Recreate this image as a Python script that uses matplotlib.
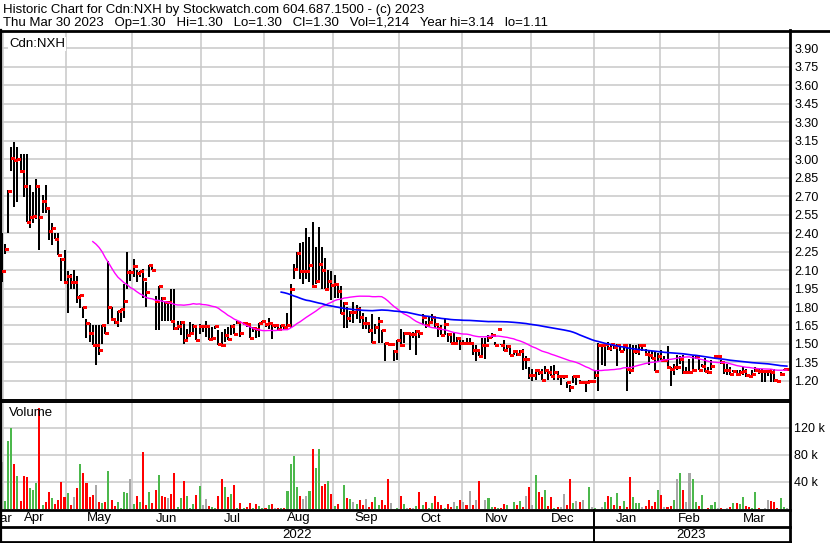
import numpy as np
import pandas as pd
import matplotlib
matplotlib.use('Agg')
import matplotlib.pyplot as plt
from matplotlib.lines import Line2D

plt.rcParams['font.family'] = ['Liberation Sans', 'DejaVu Sans']

W, H = 830, 543

# trading days Mar 31 2022 - Mar 30 2023, exchange holidays removed
holidays = ['2022-04-15', '2022-05-23', '2022-07-01', '2022-08-01', '2022-09-05',
            '2022-10-10', '2022-12-26', '2022-12-27', '2023-01-02', '2023-02-20']
dates = pd.bdate_range('2022-03-31', '2023-03-30')
dates = dates[~dates.isin(pd.to_datetime(holidays))]

close = [
    2.09, 2.27, 2.74, 3.01, 2.99, 3.00, 2.90, 2.78, 2.49, 2.53,
    2.54, 2.78, 2.53, 2.66, 2.60, 2.42, 2.44, 2.35, 2.22, 2.19,
    2.00, 2.05, 2.00, 2.00, 1.88, 1.90, 1.80, 1.67, 1.59, 1.49,
    1.49, 1.45, 1.65, 1.59, 1.80, 1.70, 1.68, 1.77, 1.78, 1.85,
    2.08, 2.08, 2.13,
    2.075, 2.09, 2.03, 1.92, 2.14, 2.10, 1.85, 1.97, 1.87, 1.84,
    1.84, 1.69, 1.63, 1.645, 1.68, 1.53, 1.57, 1.59, 1.645, 1.53,
    1.645, 1.645, 1.645, 1.54, 1.545, 1.645, 1.50, 1.49, 1.575, 1.54,
    1.645, 1.585, 1.68, 1.59, 1.67, 1.665, 1.545, 1.63, 1.62, 1.67,
    1.69,
    1.665, 1.67, 1.65, 1.65, 1.62, 1.65, 1.64, 1.65, 1.95, 2.11,
    2.235, 2.09, 2.09, 2.09, 2.14, 1.97, 2.01, 2.15, 2.10, 1.95,
    2.01, 1.98,
    1.99, 1.93, 1.75, 1.83, 1.71, 1.76, 1.76, 1.78, 1.72, 1.67,
    1.67, 1.61, 1.52, 1.64, 1.685, 1.61, 1.51, 1.50, 1.50, 1.44,
    1.53, 1.49, 1.59,
    1.59, 1.58, 1.58, 1.605, 1.59, 1.72, 1.65, 1.68, 1.72, 1.66,
    1.63, 1.57, 1.66, 1.58, 1.51, 1.51, 1.55, 1.51, 1.51, 1.505,
    1.505, 1.45, 1.45, 1.40, 1.49, 1.49, 1.56, 1.57, 1.49, 1.62,
    1.49, 1.45, 1.48, 1.41, 1.44, 1.42, 1.44, 1.38, 1.38, 1.25,
    1.25, 1.29, 1.27, 1.21, 1.29, 1.27, 1.24, 1.27, 1.24, 1.24,
    1.24, 1.19, 1.15, 1.24, 1.24, 1.19, 1.19, 1.19, 1.20, 1.20, 1.25,
    1.49, 1.49, 1.50, 1.47, 1.50, 1.475, 1.49, 1.445, 1.49, 1.30,
    1.29, 1.44, 1.445, 1.49, 1.49, 1.42, 1.41, 1.39, 1.28, 1.40,
    1.37, 1.37, 1.31, 1.30, 1.31, 1.31, 1.38, 1.27, 1.27, 1.27,
    1.29, 1.40, 1.29, 1.32, 1.28, 1.27, 1.32, 1.40, 1.40,
    1.35, 1.29, 1.29, 1.26, 1.28, 1.26, 1.27, 1.28, 1.25, 1.24,
    1.26, 1.29, 1.28, 1.28, 1.28, 1.28, 1.27, 1.21, 1.20, 1.26,
    1.30, 1.30,
]

high = [
    2.40, 2.31, 2.75, 3.10, 3.14, 3.10, 3.04, 3.04, 3.04, 2.79,
    2.73, 2.84, 2.79, 2.71, 2.79, 2.60, 2.48, 2.40, 2.40, 2.20,
    2.26, 2.09, 2.07, 2.10, 2.05, 1.90, 1.80, 1.70, 1.67, 1.65,
    1.65, 1.65, 1.65, 1.65, 2.17, 1.80, 1.70, 1.77, 1.78, 1.99,
    2.25, 2.10, 2.19,
    2.10, 2.09, 2.11, 2.00, 2.14, 2.14, 1.89, 1.97, 1.88, 1.85,
    1.85, 1.95, 1.95, 1.69, 1.69, 1.665, 1.62, 1.68, 1.665, 1.645,
    1.665, 1.645, 1.69, 1.65, 1.64, 1.645, 1.61, 1.60, 1.62, 1.64,
    1.65, 1.665, 1.69, 1.67, 1.68, 1.67, 1.65, 1.64, 1.62, 1.67,
    1.69,
    1.67, 1.71, 1.66, 1.66, 1.66, 1.65, 1.65, 1.75, 1.99, 2.15,
    2.25, 2.32, 2.33, 2.44, 2.37, 2.49, 2.29, 2.45, 2.29, 2.20,
    2.10, 2.09,
    2.06, 1.97, 1.97, 1.84, 1.80, 1.77, 1.84, 1.82, 1.80, 1.75,
    1.72, 1.68, 1.74, 1.66, 1.72, 1.61, 1.51, 1.51, 1.50, 1.45,
    1.53, 1.62, 1.60,
    1.60, 1.59, 1.60, 1.61, 1.61, 1.74, 1.69, 1.73, 1.74, 1.72,
    1.67, 1.65, 1.71, 1.59, 1.59, 1.59, 1.56, 1.55, 1.53, 1.55,
    1.55, 1.505, 1.49, 1.45, 1.55, 1.55, 1.57, 1.59, 1.52, 1.62,
    1.50, 1.53, 1.49, 1.48, 1.45, 1.45, 1.45, 1.46, 1.40, 1.31,
    1.30, 1.30, 1.28, 1.30, 1.32, 1.30, 1.32, 1.33, 1.28, 1.24,
    1.24, 1.19, 1.17, 1.24, 1.24, 1.21, 1.19, 1.19, 1.21, 1.20, 1.29,
    1.51, 1.50, 1.50, 1.52, 1.50, 1.50, 1.50, 1.49, 1.49, 1.50,
    1.50, 1.49, 1.49, 1.50, 1.50, 1.46, 1.45, 1.44, 1.44, 1.43,
    1.45, 1.40, 1.48, 1.31, 1.34, 1.41, 1.40, 1.41, 1.31, 1.38,
    1.40, 1.41, 1.38, 1.34, 1.39, 1.31, 1.37, 1.40, 1.41,
    1.37, 1.35, 1.34, 1.31, 1.29, 1.29, 1.29, 1.31, 1.30, 1.25,
    1.29, 1.31, 1.30, 1.30, 1.29, 1.29, 1.30, 1.30, 1.22, 1.27,
    1.30, 1.30,
]

low = [
    2.00, 2.23, 2.40, 2.90, 2.61, 2.65, 2.90, 2.69, 2.49, 2.44,
    2.48, 2.51, 2.26, 2.56, 2.56, 2.34, 2.30, 2.35, 2.22, 2.01,
    2.00, 1.75, 1.95, 1.95, 1.83, 1.79, 1.71, 1.55, 1.52, 1.49,
    1.33, 1.41, 1.50, 1.58, 1.66, 1.70, 1.66, 1.64, 1.68, 1.71,
    1.95, 2.01, 2.04,
    2.00, 2.04, 1.87, 1.80, 2.04, 2.10, 1.61, 1.61, 1.69, 1.69,
    1.69, 1.69, 1.61, 1.61, 1.57, 1.50, 1.54, 1.57, 1.58, 1.53,
    1.58, 1.60, 1.56, 1.53, 1.545, 1.62, 1.49, 1.49, 1.515, 1.53,
    1.57, 1.58, 1.665, 1.56, 1.65, 1.64, 1.545, 1.60, 1.55, 1.56,
    1.66,
    1.64, 1.62, 1.54, 1.63, 1.61, 1.63, 1.62, 1.61, 1.63, 2.03,
    2.09, 2.03, 1.99, 2.03, 2.00, 1.965, 1.99, 2.02, 1.95, 1.95,
    1.94, 1.86,
    1.87, 1.87, 1.74, 1.63, 1.63, 1.68, 1.67, 1.70, 1.67, 1.62,
    1.62, 1.59, 1.51, 1.58, 1.51, 1.51, 1.36, 1.50, 1.49, 1.36,
    1.37, 1.49, 1.51,
    1.57, 1.45, 1.55, 1.41, 1.55, 1.65, 1.63, 1.65, 1.67, 1.63,
    1.56, 1.57, 1.57, 1.52, 1.51, 1.51, 1.51, 1.45, 1.50, 1.50,
    1.49, 1.41, 1.36, 1.40, 1.41, 1.38, 1.52, 1.55, 1.49, 1.62,
    1.49, 1.44, 1.44, 1.41, 1.41, 1.40, 1.41, 1.29, 1.30, 1.22,
    1.20, 1.21, 1.25, 1.21, 1.26, 1.21, 1.24, 1.21, 1.21, 1.17,
    1.22, 1.14, 1.11, 1.18, 1.17, 1.19, 1.19, 1.11, 1.19, 1.19, 1.22,
    1.12, 1.33, 1.32, 1.45, 1.44, 1.46, 1.32, 1.44, 1.44, 1.12,
    1.26, 1.30, 1.42, 1.41, 1.44, 1.40, 1.33, 1.38, 1.28, 1.35,
    1.37, 1.36, 1.31, 1.16, 1.25, 1.29, 1.34, 1.26, 1.26, 1.26,
    1.28, 1.38, 1.29, 1.31, 1.27, 1.26, 1.29, 1.38, 1.38,
    1.34, 1.26, 1.25, 1.25, 1.27, 1.25, 1.26, 1.25, 1.23, 1.24,
    1.25, 1.27, 1.26, 1.19, 1.19, 1.24, 1.19, 1.19, 1.20, 1.25,
    1.29, 1.30,
]

# daily volume, thousands of shares
volume = [
    70, 12, 101, 120, 67, 49, 12, 49, 47, 31,
    28, 38, 150, 6, 10, 25, 17, 8, 13, 40,
    18, 23, 6, 18, 31, 67, 53, 39, 18, 20,
    35, 10, 9, 10, 56, 14, 4, 10, 1, 25,
    24, 44, 7, 19, 10, 84, 6, 25, 9, 28,
    50, 19, 18, 16, 22, 54, 3, 16, 42, 19,
    1, 7, 20, 34, 6, 15, 5, 3, 1, 19,
    44, 33, 18, 22, 36, 1, 9, 1, 3, 9,
    1, 7, 5, 1, 1, 6, 7, 1, 2, 1,
    1, 27, 66, 78, 33, 19, 15, 19, 27, 89,
    60, 89, 34, 37, 42, 22, 5, 7, 0, 36,
    16, 15, 10, 7, 13, 6, 15, 3, 10, 18,
    6, 13, 6, 45, 9, 0, 1, 19, 7, 1,
    1, 1, 4, 25,
    6, 10, 1, 9, 19, 10, 6, 1, 7, 3,
    10, 5, 13, 10, 6, 27, 6, 13, 42, 0.5,
    13, 16, 3, 3, 1, 1, 7, 6, 0.3, 10,
    6, 12, 3, 19, 33, 6, 51, 25, 18, 28,
    4, 18, 1, 3, 3, 22, 6, 45, 9, 12,
    10, 13, 0, 33, 3, 1, 0, 3, 10, 19,
    18, 6, 24, 4, 12, 3, 48, 18, 9, 9,
    3, 5, 13, 4, 10, 28, 21, 3, 3, 5,
    13, 45, 54, 28, 10, 54, 44, 10, 4, 21,
    0.3, 1, 6, 10, 1, 1, 0.3, 1, 3, 9,
    9, 7, 18, 5, 3, 1, 25, 1, 0.3, 1,
    13, 12, 10, 1, 17, 3, 1,
]

df = pd.DataFrame({'high': high, 'low': low, 'close': close, 'vol': volume}, index=dates)
x = np.arange(len(df))
ma_short = df['close'].rolling(30).mean()
ma_long = df['close'].rolling(90).mean()

chg = df['close'].diff().fillna(0).values
vol_colors = np.where(chg > 0.001, '#4cb84c', np.where(chg < -0.001, '#ff0000', '#a8a8a8'))

fig = plt.figure(figsize=(W / 100, H / 100), dpi=100)


def fy(py):
    return 1 - py / H


def rect(x0, y0, x1, y1):
    return [x0 / W, fy(y1), (x1 - x0) / W, (y1 - y0) / H]


grid_c = '#c8c8c8'
xlim = (-0.54, 251.0)

# month boundaries and centres
months = df.index.to_period('M')
bounds, centres, mlabels = [], [], []
for m in months.unique():
    pos = np.where(months == m)[0]
    bounds.append(pos[0] - 0.5)
    centres.append((pos[0] + pos[-1]) / 2)
    mlabels.append(m.strftime('%b'))
years = df.index.year
ycentres, ylabels, ybounds = [], [], []
for yv in sorted(set(years)):
    pos = np.where(years == yv)[0]
    ycentres.append((pos[0] + pos[-1]) / 2)
    ylabels.append(str(yv))
    ybounds.append(pos[0] - 0.5)

# price panel
ax = fig.add_axes(rect(0, 31, 790, 399))
ax.set_xlim(*xlim)
ax.set_ylim(1.054, 4.038)
pticks = np.round(np.arange(1.20, 3.91, 0.15), 2)
ax.set_yticks(pticks)
ax.set_yticklabels([f'{t:.2f}' for t in pticks], fontsize=9)
ax.yaxis.tick_right()
ax.tick_params(axis='y', length=0, pad=3)
ax.set_xticks([])
for t in pticks:
    ax.axhline(t, color=grid_c, lw=1.1, zorder=0)
for b in bounds:
    ax.axvline(b, color=grid_c, lw=1.1, zorder=0)
for s in ax.spines.values():
    s.set_visible(False)
ax.vlines(x, df['low'], df['high'], color='black', lw=1.2, zorder=2, antialiased=False)
ax.hlines(df['close'], x - 0.05, x + 0.95, color='#ff0000', lw=1.8, zorder=3,
          antialiased=False)
ax.plot(x, ma_short, color='#ff00ff', lw=1.0, zorder=4)
ax.plot(x, ma_long, color='#0000ff', lw=1.2, zorder=4)
ax.text(9 / 790, 1 - 13 / 368, 'Cdn:NXH', transform=ax.transAxes, fontsize=9.5,
        va='center', ha='left', bbox=dict(facecolor='white', edgecolor='none', pad=1))

# volume panel
axv = fig.add_axes(rect(0, 402, 790, 509))
axv.set_xlim(*xlim)
axv.set_ylim(0, 158.5)
vticks = [40, 80, 120]
axv.set_yticks(vticks)
axv.set_yticklabels([f'{v} k' for v in vticks], fontsize=9)
axv.yaxis.tick_right()
axv.tick_params(axis='y', length=0, pad=3)
axv.set_xticks([])
for v in vticks:
    axv.axhline(v, color=grid_c, lw=1.1, zorder=0)
for b in bounds:
    axv.axvline(b, color=grid_c, lw=1.1, zorder=0)
for s in axv.spines.values():
    s.set_visible(False)
axv.bar(x, df['vol'], width=0.65, color=vol_colors, zorder=2, antialiased=False)
axv.text(9 / 790, 1 - 11 / 107, 'Volume', transform=axv.transAxes, fontsize=9.5,
         va='center', ha='left')

# date label band
axl = fig.add_axes(rect(0, 509, 790, 543))
axl.set_xlim(*xlim)
axl.set_ylim(543, 509)
axl.axis('off')
for c, lab in zip(centres, mlabels):
    axl.text(c, 518.5, lab, ha='center', va='center', fontsize=9.5, clip_on=False)
for c, lab in zip(ycentres, ylabels):
    axl.text(c, 535, lab, ha='center', va='center', fontsize=9.5)
for b in ybounds[1:]:
    axl.plot([b, b], [509, 542], color='black', lw=1.4)

# frame lines (pixel coordinates)
def hline(y, x0, x1, lw):
    fig.add_artist(Line2D([x0 / W, x1 / W], [fy(y), fy(y)], color='black', lw=lw))


def vline(xp, y0, y1, lw):
    fig.add_artist(Line2D([xp / W, xp / W], [fy(y0), fy(y1)], color='black', lw=lw))


hline(30.5, 0, W, 2.0)
hline(399.5, 0, 790, 1.4)
hline(401.8, 0, 790, 1.4)
hline(509.5, 0, 790, 2.0)
hline(526.8, 0, 790, 2.0)
hline(541.8, 0, 790, 2.0)
vline(789.8, 30, 543, 2.0)
vline(0.8, 30, 543, 1.6)

fig.text(3 / W, fy(10), 'Historic Chart for Cdn:NXH by Stockwatch.com 604.687.1500 - (c) 2023',
         fontsize=9.5, va='center', ha='left')
fig.text(3 / W, fy(23), 'Thu Mar 30 2023   Op=1.30   Hi=1.30   Lo=1.30   Cl=1.30   '
         'Vol=1,214   Year hi=3.14   lo=1.11', fontsize=9.5, va='center', ha='left')

fig.savefig('out.png', dpi=100)
